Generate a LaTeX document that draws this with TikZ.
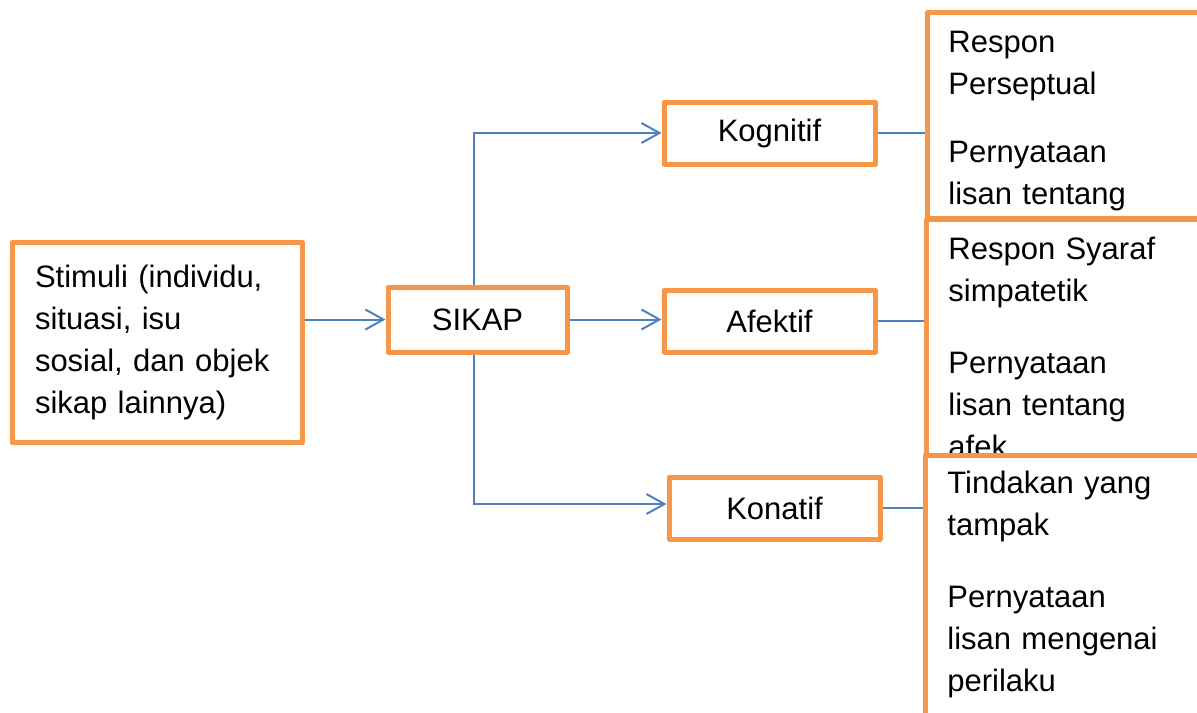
\documentclass[tikz,border=0pt]{standalone}
\usepackage{fontspec}
\setmainfont{Liberation Sans}
\usetikzlibrary{arrows.meta}
\definecolor{boxorange}{RGB}{247,150,70}
\definecolor{linkblue}{RGB}{79,129,189}

\begin{document}
\begin{tikzpicture}[x=0.5pt,y=-0.5pt,
  font=\fontsize{15.5}{21}\selectfont,
  box/.style={draw=boxorange, line width=2.5pt, fill=white, line join=round, inner sep=0pt},
  link/.style={draw=linkblue, line width=1pt},
  arr/.style={link, -{Straight Barb[length=9pt,width=10pt]}},
  info/.style={anchor=base west, inner sep=0pt, text width=125pt, align=left}]
\useasboundingbox (0,0) rectangle (1197,712);
\clip (0,0) rectangle (1197,712);

\node[box, minimum width=145pt, minimum height=100pt, text width=122pt, inner xsep=11.5pt, align=left] (stim) at (157,342.5) {Stimuli (individu,\\ situasi, isu\\ sosial, dan objek\\ sikap lainnya)};
\node[box, minimum width=89.5pt, minimum height=32.5pt] (sikap) at (477.5,319.5) {SIKAP};
\node[box, minimum width=105.5pt, minimum height=31pt] (kog) at (769.5,133) {Kognitif};
\node[box, minimum width=105.5pt, minimum height=31pt] (afe) at (769.5,321) {Afektif};
\node[box, minimum width=105.5pt, minimum height=31pt] (kon) at (774.5,508) {Konatif};

\node[box, anchor=north west, minimum width=160pt, minimum height=102.75pt] (kogbox) at (925,10) {};
\node[info] (kogtext) at (948,52) {Respon\\ Perseptual\\[13pt] Pernyataan\\ lisan tentang};
\node[box, anchor=north west, minimum width=160pt, minimum height=118pt] (afebox) at (924,217) {};
\node[info] (afetext) at (948,259) {Respon Syaraf\\ simpatetik\\[15pt] Pernyataan\\ lisan tentang\\ afek};
\node[box, anchor=north west, minimum width=160pt, minimum height=150pt] (konbox) at (923,453) {};
\node[info] (kontext) at (947,493) {Tindakan yang\\ tampak\\[15pt] Pernyataan\\ lisan mengenai\\ perilaku};

\draw[arr] (stim.east |- sikap.west) -- (sikap.west);
\draw[arr] ([xshift=-2pt]sikap.north) |- (kog.west);
\draw[arr] (sikap.east) -- (sikap.east -| afe.west);
\draw[arr] ([xshift=-2pt]sikap.south) |- ([yshift=2pt]kon.west);
\draw[link] (kog.east) -- (kog.east -| kogbox.west);
\draw[link] (afe.east) -- (afe.east -| afebox.west);
\draw[link] (kon.east) -- (kon.east -| konbox.west);
\end{tikzpicture}
\end{document}
